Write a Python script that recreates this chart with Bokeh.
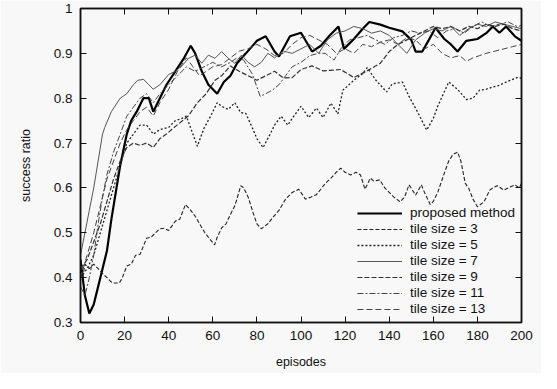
from bokeh.plotting import figure
from bokeh.models import LinearAxis, Legend, LegendItem, FixedTicker, Range1d
from bokeh.embed import file_html
from bokeh.resources import INLINE

# ---- data ----
prop_x = [0, 2, 4, 6, 8, 10, 12, 14, 16, 18, 21, 23, 25.5, 28.5, 31, 33, 36, 39, 43, 47, 50, 52, 55, 58, 62, 65, 68, 71, 75, 80, 84, 88, 90, 95, 100, 105, 109, 113, 117, 119.5, 124, 128, 131, 136, 140, 146, 150, 152, 155, 158, 161, 165, 168, 171, 175, 180, 184, 187, 190, 193, 197, 200]
prop_y = [0.44, 0.36, 0.32, 0.34, 0.38, 0.42, 0.46, 0.53, 0.59, 0.65, 0.72, 0.75, 0.77, 0.80, 0.80, 0.77, 0.80, 0.83, 0.86, 0.89, 0.917, 0.90, 0.86, 0.83, 0.81, 0.836, 0.85, 0.878, 0.90, 0.928, 0.938, 0.904, 0.893, 0.938, 0.946, 0.904, 0.917, 0.94, 0.96, 0.91, 0.932, 0.955, 0.97, 0.964, 0.957, 0.949, 0.93, 0.904, 0.904, 0.93, 0.957, 0.932, 0.92, 0.904, 0.928, 0.932, 0.945, 0.96, 0.946, 0.96, 0.938, 0.928]

ts3_x = [0, 1, 2, 4, 6, 8, 10, 12, 14, 15.4, 17.6, 19, 21, 23, 25, 27, 28.5, 30, 32, 34, 36, 38, 40, 43, 45, 47.6, 50, 52, 54, 56.4, 58, 60.8, 62, 64, 66, 68, 70, 72.7, 74, 76, 78.4, 80, 82, 85, 87, 90, 93, 96, 99, 102, 104.6, 107, 109, 111, 113.6, 116, 118, 120, 122.5, 125, 127, 129, 131.5, 133, 135.7, 138, 140, 142, 145, 147, 149, 152, 154.6, 156, 158.6, 160, 162, 165, 167, 169, 171, 172.5, 174.5, 176, 178, 180, 183, 185.6, 187, 189, 192, 194, 197, 199, 200]
ts3_y = [0.44, 0.40, 0.43, 0.42, 0.43, 0.42, 0.409, 0.40, 0.39, 0.388, 0.388, 0.40, 0.426, 0.43, 0.45, 0.452, 0.47, 0.488, 0.49, 0.50, 0.509, 0.51, 0.505, 0.526, 0.53, 0.563, 0.55, 0.537, 0.52, 0.50, 0.49, 0.473, 0.49, 0.511, 0.52, 0.541, 0.56, 0.605, 0.60, 0.58, 0.543, 0.52, 0.509, 0.52, 0.533, 0.55, 0.575, 0.59, 0.597, 0.575, 0.58, 0.585, 0.597, 0.61, 0.622, 0.635, 0.644, 0.635, 0.629, 0.635, 0.629, 0.597, 0.622, 0.615, 0.618, 0.60, 0.59, 0.58, 0.569, 0.58, 0.607, 0.584, 0.607, 0.59, 0.563, 0.57, 0.59, 0.633, 0.66, 0.675, 0.68, 0.66, 0.61, 0.60, 0.575, 0.558, 0.569, 0.595, 0.60, 0.605, 0.595, 0.60, 0.607, 0.60, 0.61]

ts5_x = [0, 3, 6, 9, 12, 15, 18, 21, 24, 27, 30, 33, 36, 40, 43, 46, 48, 50.6, 53, 56, 59, 62, 64, 67, 70, 72.6, 75, 78, 80, 82.8, 86, 88, 91, 94, 96, 100, 103.5, 107, 110, 113.6, 116.7, 119, 124, 128, 130, 134, 138.8, 141.4, 146, 149, 153, 157, 160, 162, 167, 171, 175, 178, 181, 184, 187, 190, 193, 196, 198, 200]
ts5_y = [0.40, 0.42, 0.45, 0.50, 0.55, 0.60, 0.65, 0.70, 0.72, 0.74, 0.74, 0.72, 0.73, 0.735, 0.75, 0.755, 0.76, 0.725, 0.693, 0.733, 0.76, 0.79, 0.782, 0.775, 0.79, 0.768, 0.766, 0.733, 0.71, 0.69, 0.72, 0.74, 0.76, 0.74, 0.755, 0.782, 0.757, 0.778, 0.757, 0.789, 0.765, 0.818, 0.84, 0.855, 0.868, 0.84, 0.814, 0.832, 0.836, 0.804, 0.768, 0.729, 0.755, 0.782, 0.836, 0.82, 0.797, 0.80, 0.818, 0.82, 0.825, 0.829, 0.836, 0.842, 0.846, 0.845]

ts7_x = [0, 2, 4, 6, 8, 10, 11, 14, 18, 21, 24, 26, 28.6, 31, 33, 36, 40, 43, 46, 49, 52, 55, 58, 61, 64, 67, 70, 73, 76, 79, 82, 85, 88, 92, 96, 100, 104, 108, 112, 116, 120, 124, 128, 132, 136, 140, 144, 148, 152, 156, 160, 164, 168, 172, 176, 180, 184, 188, 192, 196, 200]
ts7_y = [0.45, 0.50, 0.55, 0.60, 0.66, 0.72, 0.735, 0.77, 0.80, 0.81, 0.83, 0.84, 0.842, 0.83, 0.82, 0.83, 0.853, 0.86, 0.872, 0.889, 0.896, 0.878, 0.896, 0.889, 0.904, 0.889, 0.878, 0.896, 0.88, 0.87, 0.88, 0.90, 0.89, 0.905, 0.90, 0.91, 0.92, 0.90, 0.93, 0.945, 0.95, 0.96, 0.955, 0.945, 0.95, 0.94, 0.92, 0.90, 0.93, 0.945, 0.955, 0.95, 0.96, 0.94, 0.955, 0.965, 0.96, 0.97, 0.965, 0.96, 0.955]

ts9_x = [0, 3, 6, 9, 12, 15, 18, 21, 24, 27, 30, 33, 36, 39, 42, 45, 49, 53, 57, 61, 64, 68, 72, 76, 80, 84, 88, 92, 96, 100, 105, 110, 118, 124, 130, 136, 140, 144, 148, 152, 156, 160, 164, 168, 172, 176, 180, 184, 188, 192, 196, 200]
ts9_y = [0.42, 0.44, 0.48, 0.52, 0.57, 0.62, 0.66, 0.69, 0.70, 0.695, 0.70, 0.69, 0.71, 0.72, 0.733, 0.745, 0.761, 0.79, 0.81, 0.84, 0.85, 0.872, 0.86, 0.85, 0.84, 0.85, 0.86, 0.845, 0.846, 0.864, 0.872, 0.861, 0.864, 0.846, 0.861, 0.878, 0.904, 0.92, 0.93, 0.94, 0.95, 0.96, 0.955, 0.96, 0.95, 0.96, 0.955, 0.965, 0.96, 0.965, 0.955, 0.95]

ts11_x = [0, 2, 4, 6, 8, 10, 12, 15, 18, 21, 24, 27, 30, 33, 36, 40, 44, 48, 52, 56, 60, 64, 68, 71, 74, 78, 81.5, 84, 87, 90, 93, 96, 100, 104, 108, 111, 115, 118, 122, 126, 130, 134, 138, 142, 146, 150, 154, 158, 162, 166, 170, 174, 178, 182, 186, 190, 194, 198, 200]
ts11_y = [0.38, 0.36, 0.40, 0.45, 0.52, 0.58, 0.63, 0.68, 0.72, 0.76, 0.78, 0.80, 0.81, 0.79, 0.81, 0.83, 0.85, 0.87, 0.86, 0.87, 0.88, 0.87, 0.88, 0.89, 0.885, 0.853, 0.804, 0.81, 0.818, 0.83, 0.85, 0.87, 0.88, 0.895, 0.90, 0.90, 0.885, 0.91, 0.93, 0.935, 0.94, 0.93, 0.92, 0.935, 0.94, 0.95, 0.945, 0.95, 0.935, 0.95, 0.955, 0.945, 0.96, 0.97, 0.96, 0.965, 0.97, 0.96, 0.962]

ts13_x = [0, 3, 6, 9, 12, 15, 18, 21, 24, 27, 30, 33, 36, 40, 44, 48, 51, 54, 57, 60, 64, 68, 72, 76, 80, 84, 88, 92, 96, 100, 104, 108, 112, 116, 120, 124, 128, 132, 136, 140, 144, 148, 152, 156, 160, 164, 168, 172, 175, 178, 181, 184, 188, 192, 196, 200]
ts13_y = [0.40, 0.45, 0.50, 0.56, 0.62, 0.66, 0.70, 0.73, 0.75, 0.77, 0.78, 0.76, 0.79, 0.82, 0.86, 0.89, 0.87, 0.85, 0.86, 0.87, 0.875, 0.89, 0.905, 0.91, 0.92, 0.91, 0.895, 0.90, 0.92, 0.935, 0.94, 0.93, 0.92, 0.90, 0.91, 0.90, 0.92, 0.915, 0.925, 0.93, 0.92, 0.935, 0.93, 0.91, 0.92, 0.90, 0.89, 0.895, 0.882, 0.89, 0.895, 0.90, 0.905, 0.91, 0.915, 0.92]

labels = ["proposed method", "tile size = 3", "tile size = 5", "tile size = 7",
          "tile size = 9", "tile size = 11", "tile size = 13"]
x_ticks = [0, 20, 40, 60, 80, 100, 120, 140, 160, 180, 200]
y_ticks = [0.3, 0.4, 0.5, 0.6, 0.7, 0.8, 0.9, 1.0]
y_tick_labels = {0.3: "0.3", 0.4: "0.4", 0.5: "0.5", 0.6: "0.6", 0.7: "0.7",
                 0.8: "0.8", 0.9: "0.9", 1.0: "1"}

BG = "#f8f8f8"
FONT = "Liberation Sans"

p = figure(frame_width=441, frame_height=314, min_border_left=80, min_border_right=20,
           min_border_top=8, min_border_bottom=51,
           x_range=Range1d(0, 200), y_range=Range1d(0.3, 1.0),
           output_backend="svg", toolbar_location=None,
           background_fill_color=BG, border_fill_color=BG)
p.grid.visible = False
p.outline_line_color = "#111111"
p.outline_line_width = 1.5

def style_axis(ax, show_labels=True):
    ax.axis_line_color = "#111111"
    ax.axis_line_width = 1.5
    ax.major_tick_in = 6
    ax.major_tick_out = 0
    ax.major_tick_line_color = "#111111"
    ax.minor_tick_line_color = None
    ax.major_label_text_font = FONT
    ax.major_label_text_font_size = "13.5px"
    ax.major_label_text_color = "#111111"
    ax.axis_label_text_font = FONT
    ax.axis_label_text_font_size = "12.5px"
    ax.axis_label_text_font_style = "normal"
    ax.axis_label_text_color = "#111111"
    if not show_labels:
        ax.major_label_text_font_size = "0px"
        ax.major_label_text_color = None

p.xaxis.ticker = FixedTicker(ticks=x_ticks)
p.yaxis.ticker = FixedTicker(ticks=y_ticks)
p.yaxis.major_label_overrides = y_tick_labels
p.xaxis.axis_label = "episodes"
p.yaxis.axis_label = "success ratio"
style_axis(p.xaxis[0])
style_axis(p.yaxis[0])
p.xaxis.major_label_standoff = 8
p.yaxis.major_label_standoff = 8
p.xaxis.axis_label_standoff = 12
p.yaxis.axis_label_standoff = 18

top = LinearAxis(ticker=FixedTicker(ticks=x_ticks))
style_axis(top, show_labels=False)
p.add_layout(top, "above")
right = LinearAxis(ticker=FixedTicker(ticks=y_ticks))
style_axis(right, show_labels=False)
p.add_layout(right, "right")

series = [
    (prop_x, prop_y, "#000000", 2.2, "solid"),
    (ts3_x, ts3_y, "#222222", 1.1, "4 2"),
    (ts5_x, ts5_y, "#222222", 1.3, "2 2"),
    (ts7_x, ts7_y, "#555555", 1.0, "solid"),
    (ts9_x, ts9_y, "#333333", 1.2, "5 2"),
    (ts11_x, ts11_y, "#444444", 1.0, "6 2 2 2"),
    (ts13_x, ts13_y, "#444444", 1.0, "6 3"),
]

items = []
for (xs, ys, col, w, dash), lab in zip(series, labels):
    r = p.line(xs, ys, line_color=col, line_width=w, line_dash=dash)
    items.append(LegendItem(label=lab, renderers=[r]))

legend = Legend(items=items, location="bottom_right",
                background_fill_alpha=0, border_line_color=None,
                label_text_font=FONT, label_text_font_size="13.5px",
                label_text_color="#111111",
                label_height=14, glyph_height=14, glyph_width=45,
                spacing=1, padding=2, margin=6, label_standoff=8)
p.add_layout(legend)

open("out.html", "w").write(file_html(p, INLINE))
